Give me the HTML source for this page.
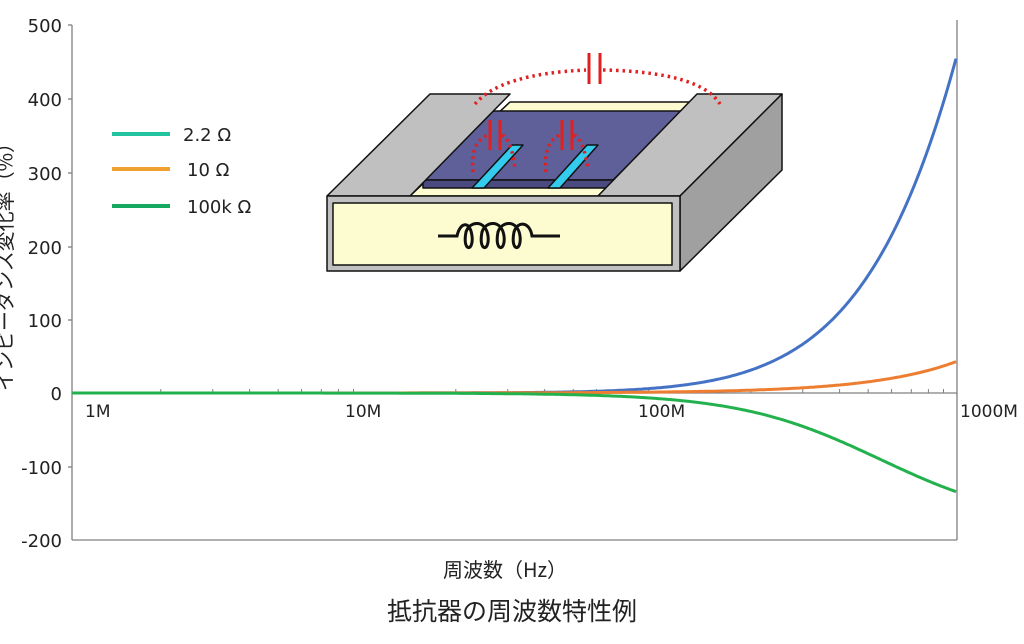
<!DOCTYPE html>
<html><head><meta charset="utf-8"><style>
html,body{margin:0;padding:0;background:#fff;}
svg{display:block;}
text{font-family:"DejaVu Sans","Noto Sans CJK JP",sans-serif;fill:#222;}
.cjk{font-family:"Noto Sans CJK JP",sans-serif;}
</style></head><body>
<svg id="s" width="1024" height="644" viewBox="0 0 1024 644" xmlns="http://www.w3.org/2000/svg">
<g stroke="#808080" stroke-width="1.3" fill="none">
<line x1="72" y1="25" x2="72" y2="540"/>
<line x1="957" y1="20" x2="957" y2="540"/>
<line x1="72" y1="540" x2="957" y2="540"/>
<line x1="72" y1="393" x2="957" y2="393"/>
<line x1="68" y1="25" x2="72" y2="25"/><line x1="68" y1="99" x2="72" y2="99"/>
<line x1="68" y1="173" x2="72" y2="173"/><line x1="68" y1="247" x2="72" y2="247"/>
<line x1="68" y1="320" x2="72" y2="320"/><line x1="68" y1="467" x2="72" y2="467"/>
</g>
<g id="ticks" stroke="#808080" stroke-width="1"></g>
<g font-size="18" text-anchor="end">
<text x="62" y="32">500</text><text x="62" y="106">400</text><text x="62" y="180">300</text>
<text x="62" y="254">200</text><text x="62" y="327">100</text><text x="62" y="400">0</text>
<text x="62" y="474">-100</text><text x="62" y="547">-200</text>
</g>
<g font-size="17">
<text x="85" y="417">1M</text><text x="345" y="417">10M</text><text x="638" y="417">100M</text><text x="960" y="417">1000M</text>
</g>
<text class="cjk" transform="translate(12,262) rotate(-90)" font-size="20" text-anchor="middle">インピーダンス変化率（%）</text>
<text class="cjk" x="505" y="577" font-size="20" text-anchor="middle">周波数（Hz）</text>
<text class="cjk" x="512" y="620" font-size="25" text-anchor="middle">抵抗器の周波数特性例</text>
<g stroke-width="4">
<line x1="112" y1="134" x2="170" y2="134" stroke="#22c4a0"/>
<line x1="112" y1="169" x2="170" y2="169" stroke="#f0a030"/>
<line x1="112" y1="206" x2="170" y2="206" stroke="#16a860"/>
</g>
<g font-size="18">
<text x="183" y="141">2.2  Ω</text><text x="187" y="176">10  Ω</text><text x="187" y="213">100k  Ω</text>
</g>
<polyline id="cb" fill="none" stroke="#4472c4" stroke-width="3"/>
<polyline id="co" fill="none" stroke="#ed7d31" stroke-width="3"/>
<polyline id="cg" fill="none" stroke="#22b14c" stroke-width="3"/>
<g stroke="#111" stroke-width="1.5" stroke-linejoin="round">
<polygon points="410,196 598,196 692,102 510,102" fill="#fdfcd0"/>
<polygon points="492,111 683,111 613,180 423,180" fill="#5f5f9a"/>
<polygon points="423,180 613,180 613,188 423,188" fill="#4a4a80"/>
<polygon points="472,188 484,188 523,145 512,145" fill="#33ccee"/>
<polygon points="548,188 560,188 598,145 587,145" fill="#33ccee"/>
<polygon points="327,196 410,196 510,94 430,94" fill="#c0c0c0"/>
<polygon points="598,196 680,196 782,94 697,94" fill="#c0c0c0"/>
<polygon points="680,196 782,94 782,170 680,271" fill="#a0a0a0"/>
<rect x="327" y="196" width="353" height="75" fill="#c0c0c0"/>
<rect x="333" y="203" width="339" height="62" fill="#fdfcd0"/>
</g>
<path d="M438,236 H457 C460,222 470,220 472,236 C474,252 462,252 466,232 C470,220 486,220 488,236 C490,252 478,252 482,232 C486,220 502,220 504,236 C506,252 494,252 498,232 C502,220 518,220 520,236 C522,252 510,252 514,232 C518,220 530,222 532,236 H560" fill="none" stroke="#111" stroke-width="3"/>
<g fill="none" stroke="#e02020" stroke-width="3.5" stroke-dasharray="2.5 4">
<path d="M475,104 Q500,74 586,70"/>
<path d="M603,70 Q700,72 720,104"/>
<path d="M473,172 Q470,142 488,135"/>
<path d="M502,135 Q512,140 515,170"/>
<path d="M546,172 Q543,142 560,135"/>
<path d="M574,135 Q584,140 588,170"/>
</g>
<g stroke="#e02020" stroke-width="3">
<line x1="589" y1="53" x2="589" y2="84"/><line x1="600" y1="53" x2="600" y2="84"/>
<line x1="490" y1="120" x2="490" y2="150"/><line x1="500" y1="120" x2="500" y2="150"/>
<line x1="562" y1="120" x2="562" y2="150"/><line x1="572" y1="120" x2="572" y2="150"/>
</g>
</svg>
<script>
(function(){
var NS="http://www.w3.org/2000/svg",t=document.getElementById("ticks");
[72,367,662].forEach(function(b){for(var k=2;k<=9;k++){var x=b+295*Math.log10(k);var l=document.createElementNS(NS,"line");l.setAttribute("x1",x);l.setAttribute("x2",x);l.setAttribute("y1",389);l.setAttribute("y2",393);t.appendChild(l);}});
function Y(v){return 393-v*0.736;}
function blue(x){var d=957-x;return Math.exp(6.13-0.011*d-0.00001*d*d);}
var pb=[],po=[],pg=[];
for(var x=72;x<=957;x+=2){
pb.push(x+","+Y(blue(x)).toFixed(1));
po.push(x+","+Y(43*Math.pow(10,1.5*(x-957)/295)).toFixed(1));
pg.push(x+","+Y(-180/(1+Math.exp(-(x-880)/71))+180/(1+Math.exp(792/71))).toFixed(1));
}
document.getElementById("cb").setAttribute("points",pb.join(" "));
document.getElementById("co").setAttribute("points",po.join(" "));
document.getElementById("cg").setAttribute("points",pg.join(" "));
})();
</script>
</body></html>
